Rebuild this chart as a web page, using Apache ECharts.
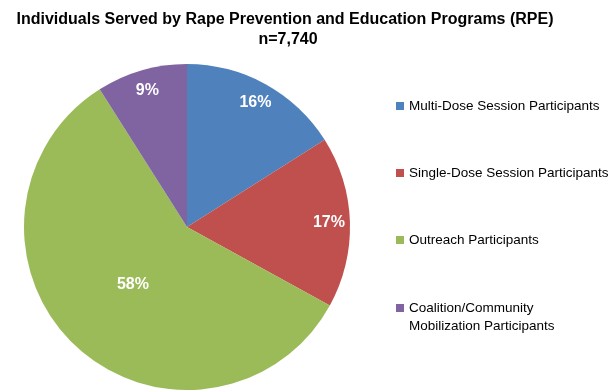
<!DOCTYPE html>
<html><head><meta charset="utf-8">
<script src="https://cdn.jsdelivr.net/npm/echarts@6/dist/echarts.min.js"></script>
<style>html,body{margin:0;padding:0;background:#fff}#c{width:613px;height:392px}</style>
</head><body><div id="c"></div>
<script>
const categories = ['Multi-Dose Session Participants','Single-Dose Session Participants','Outreach Participants','Coalition/Community\nMobilization Participants'];
const values = [16, 17, 58, 9];
const colors = ['#4F81BD','#C0504D','#9BBB59','#8064A2'];
const innerLabelIdx = [2];

const font = 'Liberation Sans, Arial, sans-serif';
const chart = echarts.init(document.getElementById('c'));
const mk = (mode) => categories.map((n,i)=>({
  name:n, value:values[i],
  itemStyle: mode === 'main' ? {color:colors[i]} : {color:'rgba(0,0,0,0)'},
  label:{show: mode === 'main' ? false : (mode === 'inner' ? innerLabelIdx.includes(i) : !innerLabelIdx.includes(i))}
}));
const legendText = {fontFamily:font, fontSize:13.5, lineHeight:18, color:'#000'};
const lbl = {position:'inside', formatter:'{c}%', color:'#fff', fontFamily:font, fontSize:16, fontWeight:'bold'};
const base = {type:'pie', center:[187,227], startAngle:90, clockwise:true, labelLine:{show:false}, emphasis:{disabled:true}};
chart.setOption({
  animation:false,
  title:[{text:'Individuals Served by Rape Prevention and Education Programs (RPE)', left:280, top:7, textAlign:'center',
    textStyle:{fontFamily:font, fontSize:16, fontWeight:'bold', color:'#000'}},
    {text:'n=7,740', left:283, top:27, textAlign:'center',
    textStyle:{fontFamily:font, fontSize:16, fontWeight:'bold', color:'#000'}}],
  legend:[{orient:'vertical', left:396, top:97, padding:0, itemWidth:8, itemHeight:8, itemGap:49, icon:'rect',
    data:categories.slice(0,3), textStyle:legendText},
    {orient:'vertical', left:396, top:281, padding:0, itemWidth:8, itemHeight:8, icon:'rect',
    data:[categories[3]], formatter:n=>'\n'+n, textStyle:legendText}],
  color:colors,
  series:[
    Object.assign({}, base, {radius:[0,163], data:mk('main'), label:{show:false}}),
    Object.assign({}, base, {radius:[0,152], data:mk('inner'), silent:true, legendHoverLink:false, label:lbl}),
    Object.assign({}, base, {radius:[115,163], data:mk('outer'), silent:true, legendHoverLink:false, label:lbl})
  ]
});
</script></body></html>
